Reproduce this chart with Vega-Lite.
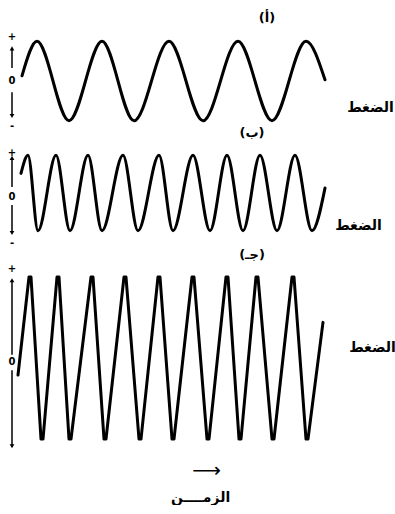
{
  "$schema": "https://vega.github.io/schema/vega-lite/v6.json",
  "background": "white",
  "padding": {"left": 0, "top": 11, "right": 0, "bottom": 0},
  "bounds": "flush",
  "spacing": 20,
  "config": {
    "view": {"stroke": null},
    "title": {"font": "DejaVu Sans", "fontSize": 13, "fontWeight": "bold", "color": "black", "frame": "group"},
    "axis": {"grid": false, "domain": false, "ticks": false, "labels": false, "titleFont": "DejaVu Sans", "titleColor": "black", "titleFontWeight": "bold", "titleFontSize": 14}
  },
  "resolve": {"scale": {"x": "independent", "y": "independent"}},
  "title": {"text": "الزمــــن", "orient": "bottom", "anchor": "middle", "dx": 3, "offset": 11, "frame": "bounds", "fontSize": 14},
  "datasets": {
    "waveA": [
      {"t": 10, "p": 0.13}, {"t": 25, "p": 1}, {"t": 57, "p": -1}, {"t": 90, "p": 1}, {"t": 122, "p": -1},
      {"t": 157, "p": 1}, {"t": 191, "p": -1}, {"t": 226, "p": 1}, {"t": 260, "p": -1}, {"t": 294, "p": 1},
      {"t": 313, "p": 0.03}
    ],
    "waveB": [
      {"t": 9, "p": 0.52}, {"t": 16, "p": 1}, {"t": 26, "p": -1}, {"t": 44, "p": 1}, {"t": 58, "p": -1},
      {"t": 76, "p": 1}, {"t": 90, "p": -1}, {"t": 111, "p": 1}, {"t": 126, "p": -1}, {"t": 147, "p": 1},
      {"t": 161, "p": -1}, {"t": 181, "p": 1}, {"t": 198, "p": -1}, {"t": 215, "p": 1}, {"t": 231, "p": -1},
      {"t": 248, "p": 1}, {"t": 265, "p": -1}, {"t": 283, "p": 1}, {"t": 300, "p": -1}, {"t": 313, "p": 0.13}
    ],
    "waveC": [
      {"t": 6, "p": -0.21},
      {"t": 17, "p": 1}, {"t": 19, "p": 1},
      {"t": 29, "p": -1}, {"t": 31, "p": -1},
      {"t": 45, "p": 1}, {"t": 47, "p": 1},
      {"t": 57, "p": -1}, {"t": 59, "p": -1},
      {"t": 79, "p": 1}, {"t": 81, "p": 1},
      {"t": 92, "p": -1}, {"t": 94, "p": -1},
      {"t": 112, "p": 1}, {"t": 114, "p": 1},
      {"t": 127, "p": -1}, {"t": 129, "p": -1},
      {"t": 146, "p": 1}, {"t": 148, "p": 1},
      {"t": 160, "p": -1}, {"t": 162, "p": -1},
      {"t": 180, "p": 1}, {"t": 182, "p": 1},
      {"t": 195, "p": -1}, {"t": 197, "p": -1},
      {"t": 214, "p": 1}, {"t": 216, "p": 1},
      {"t": 227, "p": -1}, {"t": 229, "p": -1},
      {"t": 244, "p": 1}, {"t": 246, "p": 1},
      {"t": 260, "p": -1}, {"t": 262, "p": -1},
      {"t": 280, "p": 1}, {"t": 282, "p": 1},
      {"t": 294, "p": -1}, {"t": 296, "p": -1},
      {"t": 311, "p": 0.44}
    ],
    "signsA": [{"sign": "+", "p": 1.11}, {"sign": "0", "p": 0}, {"sign": "-", "p": -1.13}],
    "segA": [{"p1": 0.33, "p2": 0.82, "dir": "up"}, {"p1": -0.28, "p2": -0.88, "dir": "down"}],
    "signsB": [{"sign": "+", "p": 1.07}, {"sign": "0", "p": -0.1}, {"sign": "-", "p": -1.32}],
    "segB": [{"p1": 0.16, "p2": 0.93, "dir": "up"}, {"p1": -0.32, "p2": -1.06, "dir": "down"}],
    "signsC": [{"sign": "+", "p": 1.1}, {"sign": "0", "p": -0.05}],
    "segC": [{"p1": 0.04, "p2": 0.96, "dir": "up"}, {"p1": -0.15, "p2": -1.09, "dir": "down"}]
  },
  "vconcat": [
    {
      "width": 330, "height": 90,
      "title": {"text": "(أ)", "offset": 7, "dx": 102},
      "layer": [
        {
          "data": {"name": "waveA"},
          "mark": {"type": "line", "interpolate": "monotone", "color": "black", "strokeWidth": 3, "strokeCap": "round"},
          "encoding": {
            "x": {"field": "t", "type": "quantitative", "scale": {"domain": [-12, 318], "nice": false}, "axis": null},
            "y": {"field": "p", "type": "quantitative", "scale": {"domain": [-1.132, 1.132], "nice": false},
                  "axis": {"orient": "right", "title": "الضغط", "titleAngle": 0, "titleAlign": "center", "titleBaseline": "middle", "titleX": 40, "titleY": 71}}
          }
        },
        {
          "data": {"name": "segA"},
          "mark": {"type": "rule", "color": "black", "strokeWidth": 1.5},
          "encoding": {"x": {"datum": 0, "type": "quantitative"}, "y": {"field": "p1", "type": "quantitative"}, "y2": {"field": "p2"}}
        },
        {
          "data": {"name": "segA"},
          "mark": {"type": "point", "filled": true, "color": "black", "opacity": 1, "size": 22},
          "encoding": {"x": {"datum": 0, "type": "quantitative"}, "y": {"field": "p2", "type": "quantitative"},
                       "shape": {"field": "dir", "type": "nominal", "scale": {"domain": ["up", "down"], "range": ["triangle-up", "triangle-down"]}, "legend": null}}
        },
        {
          "data": {"name": "signsA"},
          "mark": {"type": "text", "font": "DejaVu Sans", "fontWeight": "bold", "fontSize": 10, "baseline": "middle", "align": "center", "color": "black"},
          "encoding": {"x": {"datum": 0, "type": "quantitative"}, "y": {"field": "p", "type": "quantitative"}, "text": {"field": "sign"}}
        }
      ]
    },
    {
      "width": 330, "height": 94,
      "title": {"text": "(ب)", "offset": 6, "dx": 87},
      "layer": [
        {
          "data": {"name": "waveB"},
          "mark": {"type": "line", "interpolate": "monotone", "color": "black", "strokeWidth": 3, "strokeCap": "round"},
          "encoding": {
            "x": {"field": "t", "type": "quantitative", "scale": {"domain": [-12, 318], "nice": false}, "axis": null},
            "y": {"field": "p", "type": "quantitative", "scale": {"domain": [-1.245, 1.245], "nice": false},
                  "axis": {"orient": "right", "title": "الضغط", "titleAngle": 0, "titleAlign": "center", "titleBaseline": "middle", "titleX": 28, "titleY": 79}}
          }
        },
        {
          "data": {"name": "segB"},
          "mark": {"type": "rule", "color": "black", "strokeWidth": 1.5},
          "encoding": {"x": {"datum": 0, "type": "quantitative"}, "y": {"field": "p1", "type": "quantitative"}, "y2": {"field": "p2"}}
        },
        {
          "data": {"name": "segB"},
          "mark": {"type": "point", "filled": true, "color": "black", "opacity": 1, "size": 22},
          "encoding": {"x": {"datum": 0, "type": "quantitative"}, "y": {"field": "p2", "type": "quantitative"},
                       "shape": {"field": "dir", "type": "nominal", "scale": {"domain": ["up", "down"], "range": ["triangle-up", "triangle-down"]}, "legend": null}}
        },
        {
          "data": {"name": "signsB"},
          "mark": {"type": "text", "font": "DejaVu Sans", "fontWeight": "bold", "fontSize": 10, "baseline": "middle", "align": "center", "color": "black"},
          "encoding": {"x": {"datum": 0, "type": "quantitative"}, "y": {"field": "p", "type": "quantitative"}, "text": {"field": "sign"}}
        }
      ]
    },
    {
      "width": 330, "height": 192,
      "title": {"text": "(جـ)", "offset": -2, "dx": 87},
      "layer": [
        {
          "data": {"name": "waveC"},
          "mark": {"type": "line", "interpolate": "linear", "color": "black", "strokeWidth": 3, "strokeCap": "round", "strokeJoin": "round"},
          "encoding": {
            "x": {"field": "t", "type": "quantitative", "scale": {"domain": [-12, 318], "nice": false},
                  "axis": {"title": "⟶", "titleFontWeight": "normal", "titleFontSize": 20, "titleX": 206, "titleY": 18, "titleBaseline": "middle", "titleAlign": "center"}},
            "y": {"field": "p", "type": "quantitative", "scale": {"domain": [-1.16, 1.21], "nice": false},
                  "axis": {"orient": "right", "title": "الضغط", "titleAngle": 0, "titleAlign": "center", "titleBaseline": "middle", "titleX": 42, "titleY": 87}}
          }
        },
        {
          "data": {"name": "segC"},
          "mark": {"type": "rule", "color": "black", "strokeWidth": 1.5},
          "encoding": {"x": {"datum": 0, "type": "quantitative"}, "y": {"field": "p1", "type": "quantitative"}, "y2": {"field": "p2"}}
        },
        {
          "data": {"name": "segC"},
          "mark": {"type": "point", "filled": true, "color": "black", "opacity": 1, "size": 22},
          "encoding": {"x": {"datum": 0, "type": "quantitative"}, "y": {"field": "p2", "type": "quantitative"},
                       "shape": {"field": "dir", "type": "nominal", "scale": {"domain": ["up", "down"], "range": ["triangle-up", "triangle-down"]}, "legend": null}}
        },
        {
          "data": {"name": "signsC"},
          "mark": {"type": "text", "font": "DejaVu Sans", "fontWeight": "bold", "fontSize": 10, "baseline": "middle", "align": "center", "color": "black"},
          "encoding": {"x": {"datum": 0, "type": "quantitative"}, "y": {"field": "p", "type": "quantitative"}, "text": {"field": "sign"}}
        }
      ]
    }
  ]
}
